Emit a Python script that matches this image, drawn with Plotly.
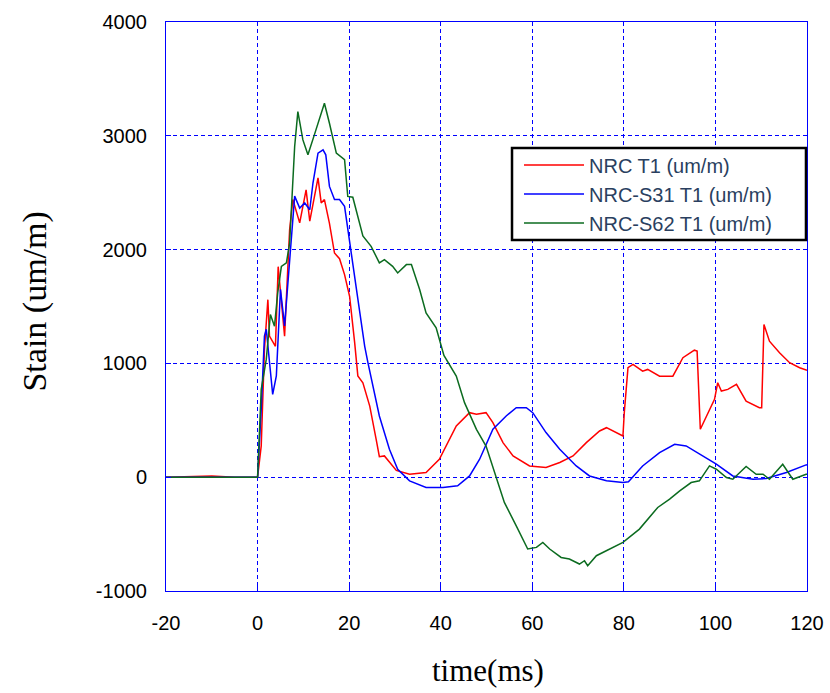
import plotly.graph_objects as go

# ---- data ----
red_t = [-20, -10, -5, 0, 0.8, 1.5, 2.25, 2.6, 3.9, 4.5, 5.9, 7.0, 7.7, 9.2, 10.6, 11.4, 13.2, 13.9, 14.6,
         15.7, 16.8, 17.9, 19.0, 20.1, 21.2, 21.9, 23.0, 24.5, 25.9, 26.6, 27.7, 28.8, 30.3, 33.2, 36.8,
         39.7, 43.4, 46.3, 47.8, 49.9, 51.4, 53.6, 55.8, 59.4, 63.0, 66.0, 68.9, 71.8, 74.7, 76.2, 79.8,
         80.1, 80.9, 82.0, 84.1, 85.2, 87.8, 90.7, 92.9, 95.4, 96.0, 96.7, 98.0, 99.8, 100.5, 101.3,
         102.7, 104.6, 106.7, 109.6, 110.1, 110.6, 111.8, 114.0, 116.2, 118.4, 120]
red_v = [0, 10, 0, 0, 275, 1120, 1560, 1240, 1150, 1850, 1240, 2175, 2440, 2235, 2525, 2250, 2630, 2410, 2440,
         2230, 1970, 1920, 1780, 1590, 1185, 890, 830, 625, 333, 180, 187, 130, 60, 26, 41,
         158, 450, 567, 553, 567, 480, 304, 187, 99, 85, 129, 187, 304, 406, 435, 362,
         570, 962, 991, 932, 947, 888, 888, 1050, 1116, 1108, 421, 538, 684, 830, 757,
         772, 816, 669, 611, 611, 1342, 1195, 1093, 1006, 962, 940]

blue_t = [-20, 0, 0.8, 1.5, 1.9, 3.3, 4.1, 5.0, 5.9, 7.0, 8.1, 9.2, 10.3, 11.4, 12.1, 13.2, 14.3, 14.9,
          15.7, 16.8, 17.9, 19.0, 20.1, 21.6, 23.4, 24.1, 26.6, 28.1, 28.8, 30.6, 33.2, 36.8, 40.5, 43.7,
          46.3, 48.5, 51.4, 54.3, 56.5, 58.7, 60.1, 63.0, 66.0, 69.6, 72.5, 76.2, 79.8, 81.0, 84.1,
          87.8, 91.1, 93.6, 97.3, 100.2, 103.8, 108.2, 111.1, 115.5, 119.8, 120]
blue_v = [0, 0, 600, 1240, 1300, 728, 890, 1650, 1330, 1940, 2470, 2365, 2410, 2350, 2585, 2848, 2877, 2833,
          2555, 2440, 2440, 2380, 2060, 1650, 1150, 1006, 538, 333, 245, 70, -32, -90, -90, -76,
          11, 158, 421, 538, 611, 611, 567, 392, 245, 99, 11, -32, -47, -40, 99,
          216, 289, 275, 187, 114, 11, -18, -12, 41, 108, 110]

green_t = [-20, 0, 0.8, 1.9, 2.8, 3.7, 4.4, 5.2, 6.3, 7.0, 8.1, 8.8, 9.9, 11.0, 12.4, 14.6, 15.7, 17.2,
           19.0, 19.7, 20.8, 23.0, 24.8, 26.6, 27.7, 29.5, 30.6, 32.5, 33.6, 35.4, 36.8, 39.0, 40.7,
           43.4, 45.2, 47.8, 49.9, 52.1, 53.9, 56.5, 59.0, 60.9, 62.3, 63.8, 66.3, 68.1, 70.3, 71.4,
           72.1, 74.0, 76.9, 79.8, 83.4, 85.6, 87.4, 90.0, 92.2, 94.7, 96.5, 98.7, 100.2, 102.4, 103.8,
           106.7, 108.9, 110.4, 111.8, 114.7, 116.9, 119.8, 120]
green_v = [0, 0, 772, 1035, 1430, 1327, 1620, 1853, 1883, 2058, 2906, 3212, 2964, 2833, 3008, 3286, 3110, 2848,
           2790, 2467, 2460, 2120, 2029, 1883, 1912, 1853, 1795, 1868, 1868, 1649, 1444, 1313, 1070,
           888, 655, 421, 274, 11, -222, -427, -631, -617, -573, -631, -705, -719, -763, -734,
           -778, -690, -631, -573, -456, -354, -266, -193, -120, -47, -32, 99, 70, -3, -18,
           94, 26, 26, -18, 114, -18, 26, 26]

series_names = ["NRC T1 (um/m)", "NRC-S31 T1 (um/m)", "NRC-S62 T1 (um/m)"]
series_colors = ["#ff0000", "#0000ff", "#0b6b1f"]

x_ticks = [-20, 0, 20, 40, 60, 80, 100, 120]
x_tick_text = ["-20", "0", "20", "40", "60", "80", "100", "120"]
y_ticks = [-1000, 0, 1000, 2000, 3000, 4000]
y_tick_text = ["-1000", "0", "1000", "2000", "3000", "4000"]

fig = go.Figure()
for t, v, name, col in zip([red_t, blue_t, green_t], [red_v, blue_v, green_v], series_names, series_colors):
    fig.add_trace(go.Scatter(x=t, y=v, mode="lines", name=name,
                             line=dict(color=col, width=1.5)))

axis_common = dict(
    showline=True, linecolor="#0000ff", linewidth=1, mirror=True,
    showgrid=True, gridcolor="#0000ff", gridwidth=1, griddash="4px,3px",
    zeroline=False, ticks="inside", ticklen=5, tickcolor="#0000ff",
    tickfont=dict(family="Arial, Liberation Sans", size=20, color="black"),
    automargin=False,
)

fig.update_xaxes(range=[-20, 120], tickvals=x_ticks, ticktext=x_tick_text, ticklabelstandoff=14, **axis_common)
fig.update_yaxes(range=[-1000, 4000], tickvals=y_ticks, ticktext=y_tick_text, ticklabelstandoff=14, **axis_common)

fig.update_layout(
    width=830, height=693, autosize=False,
    margin=dict(l=166, r=23, t=22, b=102, autoexpand=False),
    plot_bgcolor="white", paper_bgcolor="white",
    showlegend=True,
    legend=dict(
        x=0.5507, y=0.6977, xanchor="left", yanchor="middle",
        bgcolor="rgba(0,0,0,0)", borderwidth=0,
        font=dict(family="Arial, Liberation Sans", size=20),
        itemwidth=60, tracegroupgap=0,
    ),
    shapes=[
        # legend frame
        dict(type="rect", xref="paper", yref="paper", x0=0.5398, x1=0.9984, y0=0.6169, y1=0.7786,
             line=dict(color="black", width=2.5), fillcolor="white", layer="above"),
    ],
    annotations=[
        dict(text="time(ms)", xref="paper", yref="paper", x=0.502, y=-0.14,
             xanchor="center", yanchor="middle", showarrow=False,
             font=dict(family="Times New Roman, Liberation Serif", size=31, color="black")),
        dict(text="Stain (um/m)", xref="paper", yref="paper", x=-0.205, y=0.508,
             xanchor="center", yanchor="middle", showarrow=False, textangle=-90,
             font=dict(family="Times New Roman, Liberation Serif", size=34, color="black")),
    ],
)

fig.write_html("out.html")
